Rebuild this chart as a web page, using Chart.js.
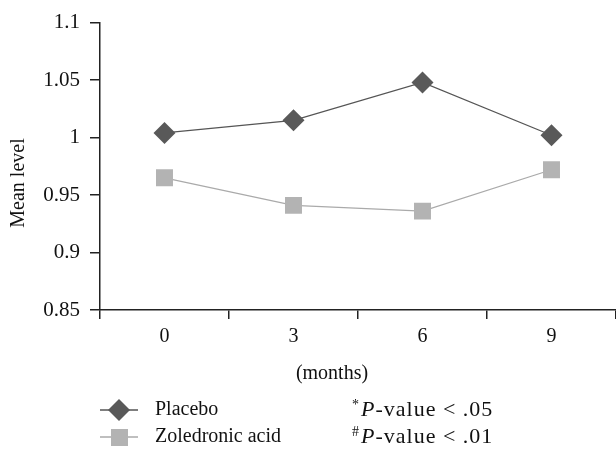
<!DOCTYPE html>
<html>
<head>
<meta charset="utf-8">
<script src="https://cdn.jsdelivr.net/npm/chart.js@4.4.0/dist/chart.umd.min.js"></script>
<style>
  html, body { margin: 0; padding: 0; background: #fff; overflow: hidden; }
  canvas { display: block; }
</style>
</head>
<body>
<canvas id="myChart" width="616" height="451"></canvas>
<script>
const ctx = document.getElementById('myChart');

// data
const months = ["0", "3", "6", "9"];
const placebo = [1.004, 1.015, 1.048, 1.002];
const zoledronic = [0.965, 0.941, 0.936, 0.972];
const yTicks = ["0.85", "0.9", "0.95", "1", "1.05", "1.1"];

const FONT = "'Liberation Serif', 'DejaVu Serif', serif";
const AXIS = '#222';

// legend + notes + axis titles drawn by hand
const extras = {
    id: 'extras',
    afterDraw(chart) {
        const c = chart.ctx;
        c.save();
        c.fillStyle = '#111';
        c.textBaseline = 'middle';
        c.font = '20px ' + FONT;

        // x title
        c.textAlign = 'center';
        c.fillText('(months)', 332, 374);

        // y title
        c.save();
        c.translate(19, 183);
        c.rotate(-Math.PI / 2);
        c.fillText('Mean level', 0, 0);
        c.restore();

        // legend: placebo
        c.textAlign = 'left';
        c.strokeStyle = '#555';
        c.lineWidth = 1.3;
        c.beginPath(); c.moveTo(100, 410); c.lineTo(138, 410); c.stroke();
        c.fillStyle = '#595959';
        c.beginPath();
        c.moveTo(119, 399); c.lineTo(130, 410); c.lineTo(119, 421); c.lineTo(108, 410);
        c.closePath(); c.fill();

        // legend: zoledronic
        c.strokeStyle = '#aaa';
        c.beginPath(); c.moveTo(100, 437); c.lineTo(138, 437); c.stroke();
        c.fillStyle = '#b3b3b3';
        c.fillRect(111, 429, 17, 17);

        c.fillStyle = '#111';
        c.fillText('Placebo', 155, 410);
        c.fillText('Zoledronic acid', 155, 437);

        // p-value notes
        const note = (sym, rest, y) => {
            let x = 352;
            c.font = '14px ' + FONT;
            c.fillText(sym, x, y - 5);
            x += c.measureText(sym).width + 2;
            c.letterSpacing = '1px';
            c.font = 'italic 22px ' + FONT;
            c.fillText('P', x, y);
            x += c.measureText('P').width;
            c.font = '22px ' + FONT;
            c.fillText(rest, x, y);
            c.letterSpacing = '0px';
        };
        note('*', '-value < .05', 410);
        note('#', '-value < .01', 437);
        c.restore();
    }
};

const myChart = new Chart(ctx, {
    type: 'line',
    data: {
        labels: months,
        datasets: [{
            label: 'Placebo',
            data: placebo,
            borderColor: '#555',
            borderWidth: 1.3,
            pointStyle: 'rectRot',
            pointRadius: 11,
            pointHoverRadius: 11,
            pointBackgroundColor: '#595959',
            pointBorderWidth: 0
        }, {
            label: 'Zoledronic acid',
            data: zoledronic,
            borderColor: '#aaa',
            borderWidth: 1.3,
            pointStyle: 'rect',
            pointRadius: 12,
            pointHoverRadius: 12,
            pointBackgroundColor: '#b3b3b3',
            pointBorderWidth: 0
        }]
    },
    options: {
        responsive: false,
        animation: false,
        layout: { autoPadding: false, padding: { top: 17, right: 0, left: 0, bottom: 0 } },
        plugins: {
            legend: { display: false },
            tooltip: { enabled: false }
        },
        scales: {
            x: {
                offset: true,
                afterFit: (s) => { s.height = 141; s.paddingLeft = 0; s.paddingRight = 0; },
                grid: {
                    offset: true,
                    drawOnChartArea: false,
                    drawTicks: true,
                    tickLength: 9,
                    color: AXIS,
                    lineWidth: 1.5
                },
                border: { color: AXIS, width: 1.5 },
                ticks: {
                    color: '#111',
                    padding: 6,
                    font: { family: FONT, size: 20 }
                }
            },
            y: {
                min: 0.85,
                max: 1.1,
                afterFit: (s) => { s.width = 100; },
                grid: {
                    drawOnChartArea: false,
                    drawTicks: true,
                    tickLength: 10,
                    color: AXIS,
                    lineWidth: 1.5
                },
                border: { color: AXIS, width: 1.5 },
                ticks: {
                    stepSize: 0.05,
                    color: '#111',
                    padding: 10,
                    font: { family: FONT, size: 21 },
                    callback: (v) => yTicks[Math.round((v - 0.85) / 0.05)]
                }
            }
        }
    },
    plugins: [extras]
});
</script>
</body>
</html>
